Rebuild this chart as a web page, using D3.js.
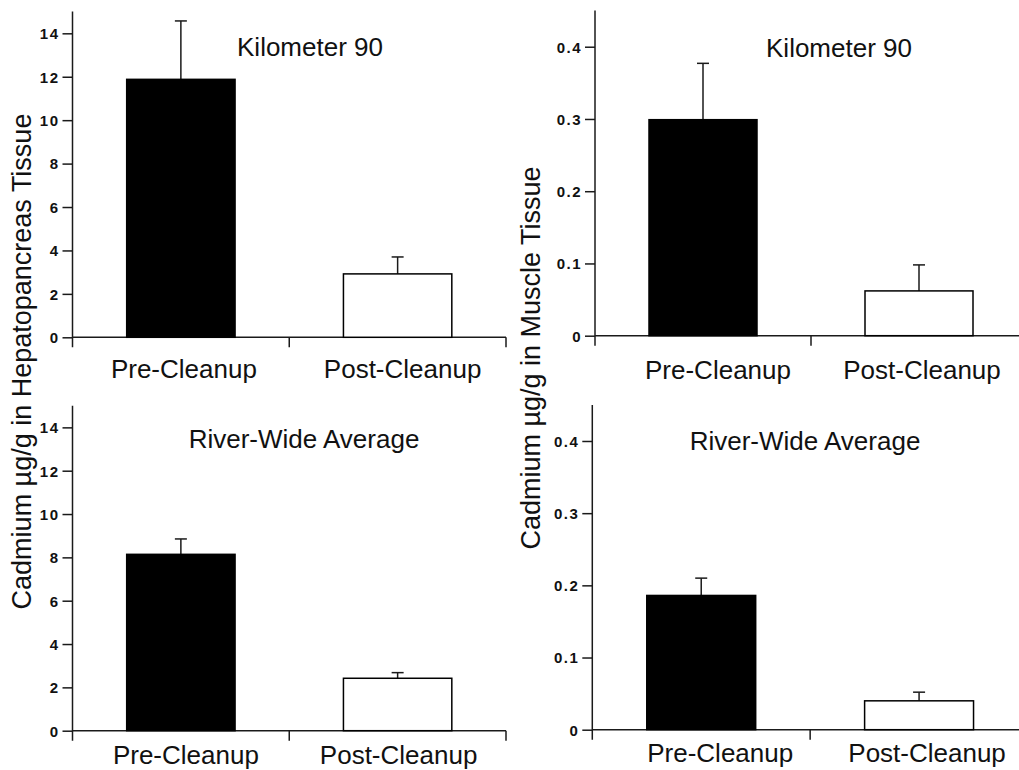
<!DOCTYPE html>
<html>
<head>
<meta charset="utf-8">
<script src="https://cdn.jsdelivr.net/npm/d3@7"></script>
<style>
  html, body { margin: 0; padding: 0; background: #fff; }
  svg { display: block; }
  text { font-family: "Liberation Sans", Arial, sans-serif; fill: #111; }
</style>
</head>
<body>
<svg id="chart" width="1019" height="770"></svg>
<script>
// ---------------- data ----------------
const categories = ["Pre-Cleanup", "Post-Cleanup"];
const panelTitles = ["Kilometer 90", "Kilometer 90", "River-Wide Average", "River-Wide Average"];
const yAxisTitles = ["Cadmium \u00b5g/g in Hepatopancreas Tissue", "Cadmium \u00b5g/g in Muscle Tissue"];

const hepatoKm90 = [11.88, 2.92];
const hepatoKm90Err = [2.69, 0.78];
const muscleKm90 = [0.299, 0.062];
const muscleKm90Err = [0.078, 0.036];
const hepatoRiver = [8.14, 2.42];
const hepatoRiverErr = [0.71, 0.26];
const muscleRiver = [0.186, 0.040];
const muscleRiverErr = [0.024, 0.012];

const hepatoTicks = [0, 2, 4, 6, 8, 10, 12, 14];
const muscleTicks = [0, 0.1, 0.2, 0.3, 0.4];
const hepatoMax = 15;
const muscleMax = 0.45;

// ---------------- layout ----------------
const svg = d3.select("#chart");
const fillColors = ["#000000", "#ffffff"];

const panels = [
  { vals: hepatoKm90, errs: hepatoKm90Err, ticks: hepatoTicks, max: hepatoMax, fmt: d3.format("d"),
    left: 72.5, right: 506, top: 11.6, base: 337.3, title: panelTitles[0], tx: 310, ty: 56,
    labY: 377.5, labDx: [3, 5] },
  { vals: muscleKm90, errs: muscleKm90Err, ticks: muscleTicks, max: muscleMax, fmt: d => d === 0 ? "0" : d3.format(".1f")(d),
    left: 595, right: 1027, top: 10.6, base: 335.7, title: panelTitles[1], tx: 839, ty: 57,
    labY: 379, labDx: [15, 3] },
  { vals: hepatoRiver, errs: hepatoRiverErr, ticks: hepatoTicks, max: hepatoMax, fmt: d3.format("d"),
    left: 72.5, right: 506, top: 405.7, base: 730.7, title: panelTitles[2], tx: 304, ty: 448,
    labY: 764, labDx: [5, 1] },
  { vals: muscleRiver, errs: muscleRiverErr, ticks: muscleTicks, max: muscleMax, fmt: d => d === 0 ? "0" : d3.format(".1f")(d),
    left: 592.3, right: 1028, top: 404.9, base: 729.7, title: panelTitles[3], tx: 805, ty: 450,
    labY: 762, labDx: [19, 8] }
];

const lineColor = "#1a1a1a";
const lw = 1.5;

panels.forEach(p => {
  const g = svg.append("g");
  const y = d3.scaleLinear().domain([0, p.max]).range([p.base, p.top]);
  const x = d3.scaleBand().domain(categories).range([p.left, p.right])
    .paddingInner(0.5).paddingOuter(0.25);
  const xEdge = d3.scaleLinear().domain([0, categories.length]).range([p.left, p.right]);

  // y axis
  const yAxis = d3.axisLeft(y).tickValues(p.ticks).tickFormat(p.fmt)
    .tickSize(10).tickSizeOuter(0).tickPadding(3);
  const ya = g.append("g").attr("transform", `translate(${p.left},0)`).call(yAxis);
  ya.select(".domain").remove();
  ya.selectAll(".tick line").attr("stroke", lineColor).attr("stroke-width", lw);
  ya.selectAll(".tick text")
    .style("font-family", "'Liberation Sans', Arial, sans-serif")
    .style("font-size", "15px").style("font-weight", "bold")
    .style("letter-spacing", "1.5px").attr("fill", "#111").attr("dy", "0.36em");

  g.append("line")
    .attr("x1", p.left).attr("x2", p.left)
    .attr("y1", y(p.max)).attr("y2", y(0) + 10)
    .attr("stroke", lineColor).attr("stroke-width", lw);

  // x axis baseline and boundary ticks
  g.append("line")
    .attr("x1", p.left).attr("x2", p.right)
    .attr("y1", y(0)).attr("y2", y(0))
    .attr("stroke", lineColor).attr("stroke-width", lw);
  g.selectAll(".xedge").data(d3.range(1, categories.length + 1)).join("line")
    .attr("x1", d => xEdge(d)).attr("x2", d => xEdge(d))
    .attr("y1", y(0)).attr("y2", y(0) + 10)
    .attr("stroke", lineColor).attr("stroke-width", lw);

  // error bars
  const capW = 12;
  const data = categories.map((c, i) => ({ c, v: p.vals[i], e: p.errs[i], i }));
  g.selectAll(".err").data(data).join("line")
    .attr("x1", d => x(d.c) + x.bandwidth() / 2).attr("x2", d => x(d.c) + x.bandwidth() / 2)
    .attr("y1", d => y(d.v)).attr("y2", d => y(d.v + d.e))
    .attr("stroke", lineColor).attr("stroke-width", lw);
  g.selectAll(".cap").data(data).join("line")
    .attr("x1", d => x(d.c) + x.bandwidth() / 2 - capW / 2)
    .attr("x2", d => x(d.c) + x.bandwidth() / 2 + capW / 2)
    .attr("y1", d => y(d.v + d.e)).attr("y2", d => y(d.v + d.e))
    .attr("stroke", lineColor).attr("stroke-width", lw);

  // bars
  g.selectAll(".bar").data(data).join("rect")
    .attr("x", d => x(d.c)).attr("width", x.bandwidth())
    .attr("y", d => y(d.v)).attr("height", d => y(0) - y(d.v))
    .attr("fill", d => fillColors[d.i])
    .attr("stroke", "#000").attr("stroke-width", lw);

  // category labels
  g.selectAll(".cat").data(data).join("text")
    .attr("x", d => x(d.c) + x.bandwidth() / 2 + p.labDx[d.i])
    .attr("y", p.labY)
    .attr("text-anchor", "middle")
    .style("font-size", "26px")
    .text(d => d.c);

  // panel title
  g.append("text")
    .attr("x", p.tx).attr("y", p.ty)
    .attr("text-anchor", "middle")
    .style("font-size", "26px")
    .text(p.title);
});

// y axis titles
svg.append("text")
  .attr("transform", "translate(31,361.5) rotate(-90)")
  .attr("text-anchor", "middle")
  .style("font-size", "27px")
  .text(yAxisTitles[0]);
svg.append("text")
  .attr("transform", "translate(540,358) rotate(-90)")
  .attr("text-anchor", "middle")
  .style("font-size", "27px")
  .text(yAxisTitles[1]);
</script>
</body>
</html>
